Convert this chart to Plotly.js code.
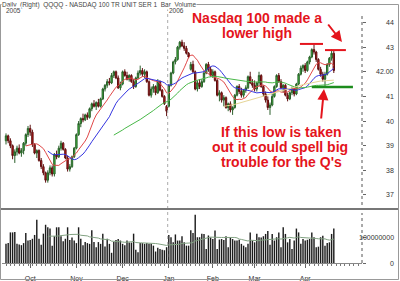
<!DOCTYPE html>
<html><head><meta charset="utf-8">
<script src="https://cdn.plot.ly/plotly-3.0.1.min.js"></script>
<style>html,body{margin:0;padding:0;background:#fff;}#chart{width:400px;height:281px;}</style>
</head><body><div id="chart"></div>
<script>
// QQQQ daily, Sep 16 2005 .. Apr 21 2006 (one value per trading day)
const openP = [39.20,39.40,39.20,39.00,38.60,38.75,38.90,38.70,38.80,39.10,
39.45,39.70,39.55,39.05,38.70,38.80,38.40,38.15,37.90,37.60,
37.90,38.10,37.85,38.65,38.55,38.90,39.10,38.85,38.50,38.05,
38.15,38.55,38.90,39.45,39.90,40.10,40.05,40.25,40.15,40.50,
40.70,40.60,40.75,40.60,40.90,41.30,41.45,41.60,41.55,41.85,
42.00,41.75,41.35,41.50,42.00,41.85,41.70,41.85,41.60,41.40,
41.75,41.95,42.05,41.90,42.00,41.60,41.05,41.30,41.40,41.15,
41.60,41.25,41.00,40.60,40.60,41.45,41.95,42.40,42.50,43.00,
43.20,43.05,42.95,42.75,42.10,42.30,42.00,41.30,41.55,41.40,
41.60,41.95,42.30,42.10,41.85,42.00,41.65,41.05,41.15,40.85,
40.95,40.55,40.70,40.45,40.55,41.05,41.40,41.20,41.05,41.25,
41.35,41.80,41.55,41.45,41.30,41.55,41.85,41.40,41.10,40.85,
40.55,40.65,41.00,41.40,41.85,41.60,41.35,41.45,41.05,40.90,
41.15,41.30,41.10,41.50,41.90,42.15,42.25,42.05,42.40,42.60,
42.90,42.80,42.50,42.10,41.90,41.70,41.90,42.30,42.55,42.75];
const highP = [39.50,39.45,39.30,39.05,38.85,39.00,39.05,38.90,39.15,39.50,
39.80,39.85,39.65,39.10,38.85,38.85,38.50,38.25,37.95,38.00,
38.20,38.20,38.70,38.80,39.00,39.20,39.15,38.90,38.60,38.25,
38.60,38.95,39.50,40.00,40.15,40.30,40.30,40.35,40.55,40.75,
40.85,40.80,40.90,40.95,41.35,41.50,41.70,41.75,41.95,42.05,
42.05,41.85,41.60,42.05,42.10,42.00,41.90,41.90,41.70,41.80,
42.05,42.25,42.15,42.10,42.05,41.65,41.40,41.50,41.45,41.70,
41.65,41.30,41.05,40.65,41.50,42.00,42.45,42.60,43.05,43.25,
43.30,43.20,43.05,42.80,42.40,42.45,42.05,41.65,41.70,41.70,
42.05,42.35,42.40,42.20,42.10,42.05,41.70,41.25,41.20,41.05,
41.00,40.75,40.80,40.60,41.10,41.45,41.50,41.35,41.30,41.45,
41.85,42.00,41.70,41.65,41.60,42.00,41.90,41.45,41.20,41.00,
40.75,41.10,41.45,41.90,41.95,41.70,41.50,41.50,41.15,41.20,
41.40,41.35,41.55,41.95,42.25,42.30,42.35,42.45,42.65,42.95,
43.10,42.85,42.55,42.20,42.00,42.00,42.35,42.60,42.90,42.85];
const lowP = [39.05,39.10,38.90,38.45,38.30,38.60,38.65,38.55,38.65,39.00,
39.35,39.40,38.95,38.65,38.50,38.35,38.05,37.80,37.50,37.50,
37.80,37.75,37.75,38.45,38.50,38.80,38.80,38.45,37.95,37.95,
38.10,38.50,38.85,39.40,39.75,39.95,40.00,40.05,40.10,40.40,
40.55,40.45,40.55,40.55,40.85,41.20,41.35,41.45,41.50,41.75,
41.70,41.30,41.25,41.45,41.80,41.65,41.60,41.55,41.30,41.35,
41.70,41.85,41.80,41.75,41.55,41.00,40.95,41.15,41.05,41.10,
41.20,40.95,40.65,40.20,40.55,41.40,41.90,42.30,42.45,42.90,
43.00,42.85,42.70,42.55,42.05,41.95,41.25,41.20,41.30,41.35,
41.55,41.90,42.00,41.80,41.75,41.60,41.00,40.80,40.75,40.60,
40.50,40.40,40.35,40.25,40.50,41.00,41.10,40.95,40.95,41.15,
41.30,41.50,41.35,41.20,41.20,41.40,41.35,41.00,40.75,40.45,
40.25,40.60,40.95,41.35,41.55,41.30,41.15,41.00,40.80,40.85,
41.05,41.00,41.05,41.45,41.85,42.00,41.95,42.00,42.30,42.55,
42.70,42.40,42.05,41.80,41.60,41.40,41.85,42.20,42.45,41.95];
const closeP = [39.40,39.20,39.00,38.60,38.75,38.90,38.70,38.80,39.10,39.45,
39.70,39.55,39.05,38.70,38.80,38.40,38.15,37.90,37.60,37.90,
38.10,37.85,38.65,38.55,38.90,39.10,38.85,38.50,38.05,38.15,
38.55,38.90,39.45,39.90,40.10,40.05,40.25,40.15,40.50,40.70,
40.60,40.75,40.60,40.90,41.30,41.45,41.60,41.55,41.85,42.00,
41.75,41.35,41.50,42.00,41.85,41.70,41.85,41.60,41.40,41.75,
41.95,42.05,41.90,42.00,41.60,41.05,41.30,41.40,41.15,41.60,
41.25,41.00,40.70,40.40,41.45,41.95,42.40,42.50,43.00,43.20,
43.05,42.95,42.75,42.60,42.30,42.00,41.30,41.55,41.40,41.60,
41.95,42.30,42.10,41.85,42.00,41.65,41.05,41.15,40.85,40.95,
40.55,40.70,40.45,40.55,41.05,41.40,41.20,41.05,41.25,41.35,
41.80,41.55,41.45,41.30,41.55,41.85,41.40,41.10,40.85,40.55,
40.65,41.00,41.40,41.85,41.60,41.35,41.45,41.05,40.90,41.15,
41.30,41.10,41.50,41.90,42.15,42.25,42.05,42.40,42.60,42.90,
42.80,42.50,42.10,41.90,41.70,41.90,42.30,42.55,42.75,42.05];
// volume in millions of shares
const volumeM = [75,78,120,120,122,75,73,70,78,118,
88,90,95,110,170,95,72,115,150,140,
135,68,105,140,140,105,85,95,140,90,
100,88,78,140,95,70,82,78,75,128,
82,62,82,75,115,65,95,75,40,82,
90,94,88,75,70,88,80,80,115,52,
42,78,78,75,78,75,75,68,45,60,
55,52,50,62,110,101,81,112,88,88,
105,81,68,68,128,118,189,101,101,115,
114,55,108,100,94,127,55,92,94,90,
105,62,101,94,88,88,91,75,68,62,
75,120,88,81,115,101,100,105,114,125,
72,114,88,101,120,62,140,114,81,94,
55,88,135,120,75,94,88,91,94,120,
101,62,64,101,107,68,78,81,114,135];
const monthLabels = ['Oct','Nov','Dec','Jan','Feb','Mar','Apr'];
const monthStart = [11,32,53,74,94,113,136];   // bar index of first trading day
const yearBreak = 73.5;                          // between Dec 30 2005 and Jan 3 2006
const priceTicks = [37,38,39,40,41,42,43,44];
const priceTickText = ['37','38','39','40','41','42.00','43','44'];
const volTicks = [0,100];
const volTickText = ['0','100000000'];
const maPeriods = [10,20,50,100];
const maColors = ['#e04848','#3535e0','#48b848','#e6d596'];
const headerParts = ['Daily','(Right)','QQQQ - NASDAQ 100 TR UNIT SER 1','Bar','Volume'];

function sma(arr, n){const out=[];let s=0;for(let i=0;i<arr.length;i++){s+=arr[i];if(i>=n)s-=arr[i-n];out.push(i>=n-1?s/n:null);}return out;}
const idx = closeP.map((_,i)=>i);

const W=400,H=281,ML=2,MR=38,MT=8,MB=18;
const PW=W-ML-MR, PH=H-MT-MB;
const px = x => (x-ML)/PW;          // pixel -> paper x
const py = y => (H-MB-y)/PH;        // pixel -> paper y

const traces = [];
traces.push({type:'candlestick',x:idx,open:openP,high:highP,low:lowP,close:closeP,
  xaxis:'x',yaxis:'y',whiskerwidth:0,
  increasing:{line:{color:'#2a5f2a',width:1},fillcolor:'#3bcc3b'},
  decreasing:{line:{color:'#5e1010',width:1},fillcolor:'#c81818'},hoverinfo:'skip'});
maPeriods.forEach((p,k)=>traces.push({type:'scatter',mode:'lines',x:idx,y:sma(closeP,p),
  xaxis:'x',yaxis:'y',line:{color:maColors[k],width:1},hoverinfo:'skip'}));
traces.push({type:'bar',x:idx,y:volumeM,xaxis:'x',yaxis:'y2',marker:{color:'#1c1c1c',line:{width:0}},hoverinfo:'skip'});
traces.push({type:'scatter',mode:'lines',x:idx,y:sma(volumeM,20),xaxis:'x',yaxis:'y2',
  line:{color:'#82a282',width:1},hoverinfo:'skip'});

const red='#e4141c';
const FAM='Liberation Sans, Arial, sans-serif';
const textFont={family:FAM,size:14,color:red};
const smallFont={family:FAM,size:7,color:'#333'};
const ann=[];
function bigText(t,xp,yp){ann.push({xref:'paper',yref:'paper',x:px(xp),y:py(yp),xanchor:'center',yanchor:'middle',text:'<b>'+t+'</b>',showarrow:false,font:textFont});}
bigText('Nasdaq 100 made a',257,18.5);
bigText('lower high',257,33);
bigText('If this low is taken',281,132);
bigText('out it could spell big',280,147);
bigText("trouble for the Q's",281,162);
function hdr(t,xp,yp){ann.push({xref:'paper',yref:'paper',x:px(xp),y:py(yp),xanchor:'left',yanchor:'middle',text:t,showarrow:false,font:{family:FAM,size:6.5,color:'#444'},bgcolor:'#fff',borderpad:0});}
hdr(headerParts.join('\u00a0\u00a0'),1,4.5);
hdr('2005',5,11);hdr('2006',168,11);
priceTicks.forEach((v,k)=>ann.push({xref:'paper',yref:'y',x:px(396),y:v,xanchor:'right',yanchor:'middle',text:priceTickText[k],showarrow:false,font:smallFont}));
volTicks.forEach((v,k)=>ann.push({xref:'paper',yref:'y2',x:px(396),y:v,xanchor:'right',yanchor:'middle',text:volTickText[k],showarrow:false,font:smallFont}));
// arrows
ann.push({xref:'paper',yref:'paper',x:px(342),y:py(42),ax:-15,ay:-19,text:'',showarrow:true,arrowhead:2,arrowsize:1.1,arrowwidth:2,arrowcolor:red});
ann.push({xref:'paper',yref:'paper',x:px(324),y:py(89),ax:-3,ay:31,text:'',showarrow:true,arrowhead:2,arrowsize:1.1,arrowwidth:2,arrowcolor:red});

const shapes=[
 {type:'line',xref:'paper',yref:'paper',x0:1,x1:1,y0:py(205),y1:py(15),line:{color:'#555',width:1,dash:'dot'}},
 {type:'line',xref:'paper',yref:'paper',x0:1,x1:1,y0:py(263),y1:py(213),line:{color:'#555',width:1,dash:'dot'}},
 {type:'line',xref:'x',yref:'paper',x0:yearBreak,x1:yearBreak,y0:0,y1:1,line:{color:'#aaa',width:1,dash:'dot'}},
 {type:'line',xref:'paper',yref:'paper',x0:px(0),x1:px(398),y0:py(209),y1:py(209),line:{color:'#777',width:2}},
 {type:'rect',xref:'paper',yref:'paper',x0:px(0.5),x1:px(398.5),y0:py(279.5),y1:py(4.5),line:{color:'#999',width:1}},
 {type:'line',xref:'x',yref:'y',x0:133.6,x1:144.1,y0:43.13,y1:43.13,line:{color:red,width:2}},
 {type:'line',xref:'x',yref:'y',x0:145,x1:154.5,y0:42.88,y1:42.88,line:{color:red,width:2}},
 {type:'line',xref:'x',yref:'y',x0:139,x1:157.7,y0:41.38,y1:41.38,line:{color:'#1c8c1c',width:2.5}}
];

const layout={width:W,height:H,margin:{l:ML,r:MR,t:MT,b:MB,pad:0},
 paper_bgcolor:'#fff',plot_bgcolor:'#fff',showlegend:false,
 font:{family:FAM,size:7,color:'#333'},
 boxgap:0.1,bargap:0.35,
 xaxis:{range:[-1.818,161.818],anchor:'y2',tickmode:'array',tickvals:monthStart,ticktext:monthLabels,
   ticks:'outside',ticklen:4,tickcolor:'#666',showline:true,linecolor:'#888',linewidth:1,ticklabelstandoff:5,
   showgrid:false,zeroline:false,rangeslider:{visible:false},tickfont:{size:7,color:'#333'},
   minor:{ticks:'outside',ticklen:2,dtick:2,tick0:0,tickcolor:'#777',showgrid:false}},
 yaxis:{domain:[py(207),1],range:[36.512,44.588],side:'right',anchor:'x',showticklabels:false,
   tickmode:'array',tickvals:priceTicks,ticks:'outside',ticklen:3,tickcolor:'#666',showgrid:false,zeroline:false,showline:false},
 yaxis2:{domain:[0,py(211)],range:[0,203.9],side:'right',anchor:'x',showticklabels:false,
   tickmode:'array',tickvals:volTicks,ticks:'outside',ticklen:3,tickcolor:'#666',showgrid:false,zeroline:false,showline:false},
 shapes:shapes,annotations:ann};

Plotly.newPlot('chart',traces,layout,{staticPlot:true,displayModeBar:false});
</script></body></html>
